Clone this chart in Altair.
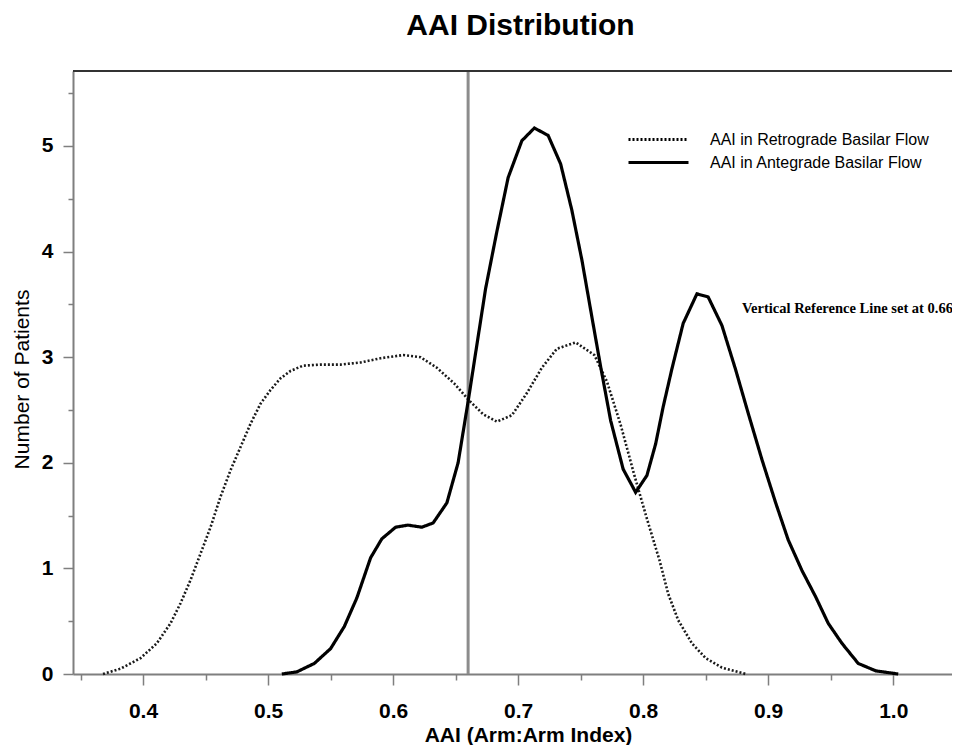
import altair as alt
import pandas as pd

# ---- data ----
ANTE_X = [0.511, 0.523, 0.537, 0.550, 0.561, 0.571, 0.582, 0.591, 0.602, 0.612, 0.623, 0.632,
          0.643, 0.652, 0.660, 0.666, 0.674, 0.683, 0.692, 0.703, 0.713, 0.724, 0.734, 0.743,
          0.751, 0.759, 0.766, 0.774, 0.784, 0.794, 0.803, 0.810, 0.816, 0.823, 0.832, 0.843,
          0.852, 0.863, 0.874, 0.884, 0.895, 0.906, 0.916, 0.927, 0.938, 0.948, 0.959, 0.972,
          0.986, 1.004]
ANTE_Y = [0.0, 0.02, 0.10, 0.24, 0.45, 0.72, 1.10, 1.28, 1.39, 1.41, 1.39, 1.43,
          1.62, 2.00, 2.58, 3.04, 3.65, 4.19, 4.70, 5.05, 5.17, 5.10, 4.83, 4.39,
          3.92, 3.38, 2.91, 2.40, 1.94, 1.72, 1.88, 2.18, 2.53, 2.89, 3.32, 3.60,
          3.57, 3.30, 2.88, 2.47, 2.03, 1.62, 1.27, 0.98, 0.73, 0.48, 0.29, 0.10,
          0.03, 0.0]

RETRO_X = [0.368, 0.382, 0.398, 0.411, 0.422, 0.430, 0.438, 0.446, 0.454, 0.462, 0.470, 0.478,
           0.486, 0.494, 0.502, 0.510, 0.518, 0.528, 0.542, 0.558, 0.574, 0.590, 0.608, 0.622,
           0.635, 0.649, 0.660, 0.672, 0.683, 0.695, 0.707, 0.719, 0.731, 0.746, 0.761, 0.771,
           0.782, 0.793, 0.803, 0.813, 0.820, 0.828, 0.839, 0.850, 0.863, 0.882]
RETRO_Y = [0.0, 0.05, 0.15, 0.29, 0.48, 0.67, 0.89, 1.14, 1.39, 1.68, 1.93, 2.15,
           2.37, 2.56, 2.69, 2.80, 2.87, 2.92, 2.93, 2.93, 2.95, 2.99, 3.02, 3.00,
           2.90, 2.75, 2.60, 2.46, 2.39, 2.45, 2.66, 2.90, 3.08, 3.14, 3.02, 2.77,
           2.36, 1.88, 1.47, 1.08, 0.76, 0.51, 0.29, 0.15, 0.06, 0.0]

SERIES = ["AAI in Retrograde Basilar Flow", "AAI in Antegrade Basilar Flow"]
REF_LINE = [0.66]
NOTE_TEXT = ["Vertical Reference Line set at 0.66"]
NOTE_X = [0.879]
NOTE_Y = [3.42]

X_DOMAIN = [0.344, 1.047]
Y_DOMAIN = [0, 5.71]
X_TICKS = [0.35, 0.40, 0.45, 0.50, 0.55, 0.60, 0.65, 0.70, 0.75, 0.80, 0.85, 0.90, 0.95, 1.00]
Y_TICKS = [0, 0.5, 1, 1.5, 2, 2.5, 3, 3.5, 4, 4.5, 5, 5.5]

FONT = "Liberation Sans"
AXIS_GRAY = "#7f7f7f"

retro_df = pd.DataFrame({"aai": RETRO_X, "n": RETRO_Y, "series": SERIES[0]})
ante_df = pd.DataFrame({"aai": ANTE_X, "n": ANTE_Y, "series": SERIES[1]})
ref_df = pd.DataFrame({"aai": REF_LINE})
top_df = pd.DataFrame({"n": [Y_DOMAIN[1]]})
note_df = pd.DataFrame({"aai": NOTE_X, "n": NOTE_Y, "label": NOTE_TEXT})

x_major = "abs(datum.value*10 - round(datum.value*10)) < 0.001"
y_major = "abs(datum.value - round(datum.value)) < 0.001"

x_enc = alt.X(
    "aai:Q",
    scale=alt.Scale(domain=X_DOMAIN, nice=False, zero=False),
    axis=alt.Axis(
        title="AAI (Arm:Arm Index)",
        values=X_TICKS,
        labelExpr=f"{x_major} ? format(datum.value, '.1f') : ''",
        tickSize={"condition": {"test": x_major, "value": 11}, "value": 6},
        labelPadding=15,
        labelFontSize=21,
        labelFontWeight="bold",
        titleFontSize=21,
        titleFontWeight="bold",
        titleX=455,
        titleY=67,
        titleBaseline="alphabetic",
        titleAlign="center",
        grid=False,
    ),
)
y_enc = alt.Y(
    "n:Q",
    scale=alt.Scale(domain=Y_DOMAIN, nice=False),
    axis=alt.Axis(
        title="Number of Patients",
        values=Y_TICKS,
        labelExpr=f"{y_major} ? format(datum.value, 'd') : ''",
        tickSize={"condition": {"test": y_major, "value": 10}, "value": 5},
        labelPadding=10,
        labelFontSize=21,
        labelFontWeight="bold",
        titleFontSize=21,
        titleFontWeight="normal",
        titleX=-45,
        titleY=308,
        titleBaseline="alphabetic",
        titleAlign="center",
        titleAngle=270,
        grid=False,
    ),
)

dash = alt.StrokeDash(
    "series:N",
    scale=alt.Scale(domain=SERIES, range=[[2, 2], [1, 0]]),
    legend=alt.Legend(
        title=None,
        orient="none",
        legendX=574,
        legendY=57,
        padding=0,
        symbolType="M-3,0H3",
        symbolSize=400,
        symbolStrokeWidth=3,
        symbolStrokeColor="black",
        symbolFillColor="transparent",
        labelOffset=40,
        labelLimit=0,
        labelFont=FONT,
        labelFontSize=16,
        labelColor="black",
        rowPadding=3,
    ),
)

retro = alt.Chart(retro_df).mark_line(color="#1a1a1a", strokeWidth=2.6).encode(
    x=x_enc, y=y_enc, strokeDash=dash
)
ante = alt.Chart(ante_df).mark_line(color="black", strokeWidth=3.2).encode(
    x=x_enc, y=y_enc, strokeDash=dash
)
ref = alt.Chart(ref_df).mark_rule(color="#8c8c8c", strokeWidth=3).encode(x=x_enc)
top = alt.Chart(top_df).mark_rule(color="#333333", strokeWidth=2).encode(y=y_enc)
note = alt.Chart(note_df).mark_text(
    font="Liberation Serif", fontWeight="bold", fontSize=14.5, align="left",
    baseline="alphabetic", color="black"
).encode(x=x_enc, y=y_enc, text="label:N")

chart = (
    alt.layer(ref, top, retro, ante, note)
    .properties(
        width=879,
        height=603,
        autosize=alt.AutoSizeParams(type="none"),
        padding={"left": 65, "top": 63, "right": 0, "bottom": 71},
        title=alt.TitleParams(
            text="AAI Distribution",
            font=FONT,
            fontSize=30,
            fontWeight="bold",
            anchor="middle",
            frame="group",
            baseline="alphabetic",
            offset=5,
            dx=8,
            color="black",
        ),
    )
    .configure_view(stroke=None)
    .configure_axis(
        labelFont=FONT,
        titleFont=FONT,
        labelColor="black",
        titleColor="black",
        domainColor=AXIS_GRAY,
        domainWidth=2,
        tickColor=AXIS_GRAY,
        tickWidth=1.5,
    )
)

chart.save("out.html", embed_options={"renderer": "svg", "actions": False})
